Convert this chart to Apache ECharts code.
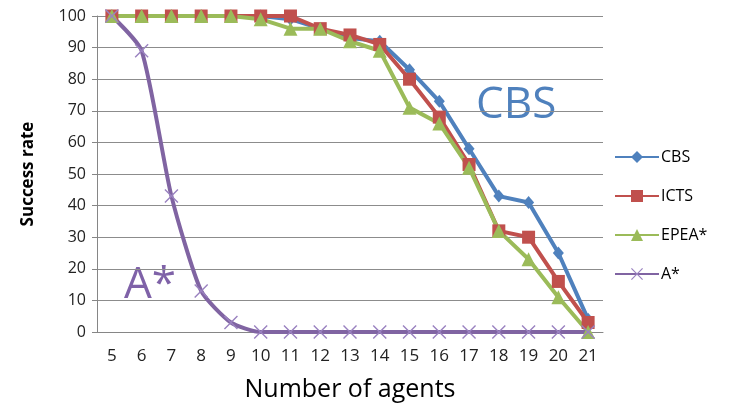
<!DOCTYPE html>
<html>
<head>
<meta charset="utf-8">
<script src="https://cdn.jsdelivr.net/npm/echarts@6/dist/echarts.min.js"></script>
<style>
  html, body { margin: 0; padding: 0; background: #fff; }
  #chart { width: 738px; height: 412px; }
</style>
</head>
<body>
<div id="chart"></div>
<script>
// Number of agents on the x axis
const agents = ['5','6','7','8','9','10','11','12','13','14','15','16','17','18','19','20','21'];

// Success rate (%) per solver
const cbs   = [100,100,100,100,100,100, 99, 96, 93, 92, 83, 73, 58, 43, 41, 25,  4];
const icts  = [100,100,100,100,100,100,100, 96, 94, 91, 80, 68, 53, 32, 30, 16,  3];
const epea  = [100,100,100,100,100, 99, 96, 96, 92, 89, 71, 66, 52, 32, 23, 11,  0];
const astar = [100, 89, 43, 13,  3,  0,  0,  0,  0,  0,  0,  0,  0,  0,  0,  0,  0];

const FONT = '"Open Sans", "Liberation Sans", sans-serif';
const BLUE = '#4f81bd', RED = '#c0504d', GREEN = '#9bbb59', PURPLE = '#8064a2';

// thin "x" marker outline
const CROSS = 'path://M0,1 L1,0 L7,6 L13,0 L14,1 L8,7 L14,13 L13,14 L7,8 L1,14 L0,13 L6,7 Z';

function lineSeries(name, data, color, symbol, size, extra) {
  return Object.assign({
    name, type: 'line', data,
    symbol, symbolSize: size,
    lineStyle: { color, width: 4 },
    itemStyle: { color },
    emphasis: { disabled: true },
    animation: false
  }, extra || {});
}

const chart = echarts.init(document.getElementById('chart'));
chart.setOption({
  animation: false,
  textStyle: { fontFamily: FONT },
  grid: { left: 97, right: 135, top: 16, bottom: 80, containLabel: false, outerBoundsMode: 'none' },
  xAxis: {
    type: 'category',
    data: agents,
    boundaryGap: true,
    name: 'Number of agents',
    nameLocation: 'middle',
    nameGap: 45,
    nameTextStyle: { fontSize: 25, color: '#000', fontFamily: FONT },
    axisLine: { lineStyle: { color: '#868686', width: 1 } },
    axisTick: { show: false },
    axisLabel: { fontSize: 17, color: '#222', margin: 16, fontFamily: FONT, interval: 0 }
  },
  yAxis: {
    type: 'value',
    min: 0, max: 100, interval: 10,
    name: 'Success rate',
    nameLocation: 'middle',
    nameGap: 60,
    nameRotate: 90,
    nameTextStyle: { fontSize: 17, fontWeight: 'bold', color: '#000', fontFamily: FONT },
    axisLine: { show: true, lineStyle: { color: '#868686', width: 1 } },
    axisTick: { show: true, length: 5, lineStyle: { color: '#868686' } },
    axisLabel: { fontSize: 16, color: '#222', margin: 11, fontFamily: FONT },
    splitLine: { lineStyle: { color: '#8c8c8c', width: 1 } }
  },
  legend: {
    orient: 'vertical',
    left: 609, top: 144,
    itemWidth: 44, itemHeight: 15, itemGap: 23,
    textStyle: { fontSize: 16, color: '#000', fontFamily: FONT, padding: [0, 0, 0, -3] },
    data: ['CBS', 'ICTS', 'EPEA*', 'A*']
  },
  series: [
    lineSeries('CBS', cbs, BLUE, 'diamond', [11, 13]),
    lineSeries('ICTS', icts, RED, 'rect', 13),
    lineSeries('EPEA*', epea, GREEN, 'triangle', 14),
    lineSeries('A*', astar, PURPLE, CROSS, 14, {
      smooth: 0.2,
      itemStyle: { color: '#9a82c0' }
    })
  ],
  graphic: [
    { type: 'text', left: 476, top: 83,
      style: { text: 'CBS', fontSize: 44, fill: BLUE, fontFamily: FONT } },
    { type: 'text', left: 124, top: 263,
      style: { text: 'A*', fontSize: 44, fill: '#7f62a8', fontFamily: FONT } }
  ]
});
</script>
</body>
</html>
